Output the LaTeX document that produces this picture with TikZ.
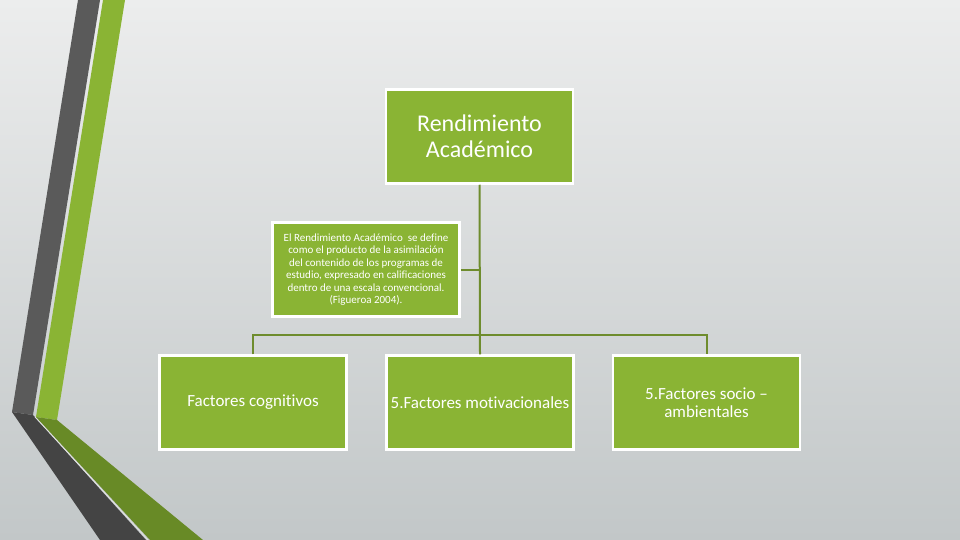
\documentclass[tikz,border=0pt]{standalone}
\usepackage{fontspec}
\setmainfont{Carlito}[Ligatures=NoCommon]
\begin{document}
\begin{tikzpicture}[x=1pt,y=-1pt,
  box/.style={draw=white,line width=2.5pt,fill=boxgreen,text=white,minimum width=187pt,minimum height=94pt,inner sep=2pt,align=center},
  conn/.style={draw=linegreen,line width=2pt}]
\definecolor{boxgreen}{RGB}{138,180,52}
\definecolor{linegreen}{RGB}{110,140,45}
\definecolor{stripegray}{RGB}{90,90,90}
\definecolor{stripedark}{RGB}{68,68,68}
\definecolor{stripegreen}{RGB}{138,180,52}
\definecolor{stripegreendark}{RGB}{104,138,38}
\useasboundingbox (0,0) rectangle (960,540);
\shade[top color={rgb,255:red,236;green,237;blue,237},bottom color={rgb,255:red,194;green,199;blue,200}] (0,0) rectangle (960,540);
% left stripes
\fill[stripegray] (78,0) -- (100,0) -- (33,415) -- (12,412) -- cycle;
\fill[stripedark] (12,412) -- (33,415) -- (146,540) -- (100,540) -- cycle;
\fill[stripegreen] (103,0) -- (125,0) -- (57,420) -- (36,417) -- cycle;
\fill[stripegreendark] (36,417) -- (57,420) -- (203,540) -- (150,540) -- cycle;
\draw[white!80!gray,line width=0.7pt] (35,417) -- (148,540);
% nodes
\node[box,font=\fontsize{24}{26}\selectfont] (top) at (479.5,136.5) {Rendimiento\\Académico};
\node[box,font=\fontsize{11}{12.5}\selectfont,inner sep=1pt] (note) at (366,269.5) {El Rendimiento Académico\ \ se define\\como el producto de la asimilación\\del contenido de los programas de\\estudio, expresado en calificaciones\\dentro de una escala convencional.\\(Figueroa 2004).};
\node[box,font=\fontsize{17}{18}\selectfont] (b1) at (253,402.5) {Factores cognitivos};
\node[box,font=\fontsize{17}{18}\selectfont] (b2) at (480,402.5) {5.Factores motivacionales};
\node[box,font=\fontsize{17}{18}\selectfont] (b3) at (706.5,402.5) {5.Factores socio –\\ambientales};
% connectors
\coordinate (bus) at (480,335);
\draw[conn] (top.south) -- (b2.north);
\draw[conn] (note.east) -- (top.south |- note.east);
\draw[conn] (b1.north) |- (bus) -| (b3.north);
\end{tikzpicture}
\end{document}
